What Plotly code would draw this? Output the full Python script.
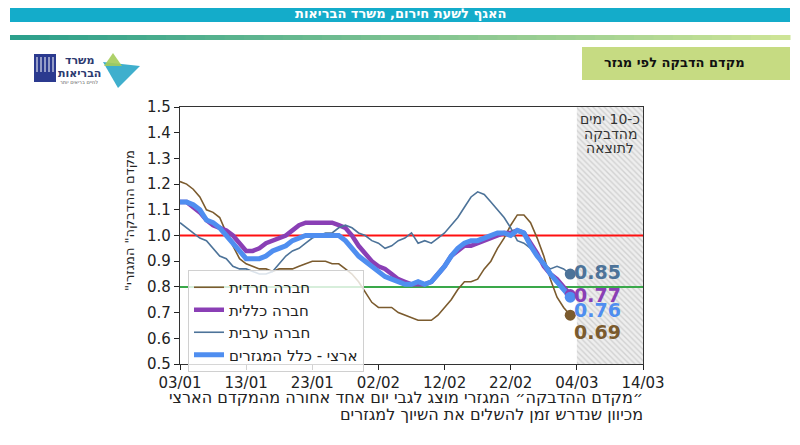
import pandas as pd
import plotly.graph_objects as go

# 마지막 날짜까지 60일치 (2021-01-03 ~ 2021-03-03)
dates = pd.date_range('2021-01-03', periods=60)

haredi = [1.21, 1.20, 1.18, 1.15, 1.10, 1.09, 1.07, 1.01, 0.96, 0.91,
          0.89, 0.88, 0.87, 0.87, 0.86, 0.87, 0.87, 0.87, 0.88, 0.89,
          0.90, 0.90, 0.90, 0.89, 0.89, 0.87, 0.85, 0.82, 0.78, 0.74,
          0.72, 0.72, 0.72, 0.70, 0.69, 0.68, 0.67, 0.67, 0.67, 0.69,
          0.72, 0.75, 0.79, 0.82, 0.82, 0.83, 0.87, 0.90, 0.95, 0.99,
          1.04, 1.08, 1.08, 1.05, 0.99, 0.92, 0.83, 0.76, 0.72, 0.69]

general = [1.13, 1.13, 1.11, 1.09, 1.06, 1.04, 1.03, 1.02, 1.00, 0.97,
           0.94, 0.94, 0.95, 0.97, 0.98, 0.99, 1.00, 1.02, 1.04, 1.05,
           1.05, 1.05, 1.05, 1.05, 1.04, 1.03, 1.00, 0.96, 0.93, 0.90,
           0.88, 0.87, 0.85, 0.83, 0.82, 0.81, 0.81, 0.81, 0.82, 0.85,
           0.88, 0.92, 0.94, 0.96, 0.96, 0.97, 0.98, 0.99, 1.00, 1.01,
           1.01, 1.02, 1.01, 0.97, 0.93, 0.88, 0.85, 0.83, 0.80, 0.77]

arab = [1.05, 1.03, 1.01, 0.99, 0.98, 0.95, 0.92, 0.91, 0.88, 0.87,
        0.87, 0.86, 0.85, 0.85, 0.86, 0.89, 0.92, 0.94, 0.95, 0.97,
        0.99, 1.00, 1.01, 1.01, 1.03, 1.04, 1.03, 1.01, 1.00, 0.98,
        0.97, 0.95, 0.96, 0.98, 0.99, 1.01, 0.97, 0.98, 0.97, 0.99,
        1.01, 1.04, 1.07, 1.11, 1.15, 1.17, 1.16, 1.13, 1.10, 1.07,
        1.03, 0.98, 0.97, 0.95, 0.92, 0.89, 0.87, 0.88, 0.87, 0.85]

national = [1.13, 1.13, 1.12, 1.10, 1.06, 1.05, 1.03, 1.00, 0.97, 0.94,
            0.91, 0.91, 0.91, 0.92, 0.94, 0.95, 0.96, 0.98, 0.99, 1.00,
            1.00, 1.00, 1.00, 1.00, 1.00, 0.98, 0.95, 0.92, 0.90, 0.88,
            0.86, 0.84, 0.83, 0.82, 0.81, 0.81, 0.82, 0.81, 0.82, 0.85,
            0.88, 0.92, 0.95, 0.97, 0.98, 0.98, 0.99, 1.00, 1.01, 1.01,
            1.00, 1.02, 1.01, 0.96, 0.92, 0.89, 0.85, 0.82, 0.79, 0.76]

names = ['חברה חרדית', 'חברה כללית', 'חברה ערבית', 'ארצי - כלל המגזרים']
colors = ['#7b5b2e', '#8a3fb5', '#4d7399', '#4f8ef0']
widths = [1.6, 4.5, 1.6, 5]
label_shift = [-17, 0, 2, -13]   # 끝값 라벨 위치 보정

tick_vals = pd.date_range('2021-01-03', periods=8, freq='10D')
tick_text = ['03/01', '13/01', '23/01', '02/02', '12/02', '22/02', '04/03', '14/03']

x_start, x_end = '2021-01-03', '2021-03-14'
shade_start = '2021-03-04'
shade_text = ['כ-10 ימים', 'מהדבקה', 'לתוצאה']

FONT = 'DejaVu Sans'

# 페이지 body 여백(8px) 고려
W, H, OFF = 792, 437, 8
# 픽셀(스크린샷 기준) -> paper 좌표
L, R, T, B = 180, 643, 107, 364
def px(x):
    return (x - L) / (R - L)
def py(y):
    return (B - y) / (B - T)

def note(x, y, text, size, color='#222', xanchor='center', **kw):
    fig.add_annotation(x=px(x), y=py(y), xref='paper', yref='paper', text=text,
                       showarrow=False, xanchor=xanchor, yanchor='middle',
                       font=dict(family=FONT, size=size, color=color), **kw)

fig = go.Figure()

# 빗금 영역
fig.add_trace(go.Scatter(
    x=[shade_start, x_end, x_end, shade_start, shade_start],
    y=[0.5, 0.5, 1.5, 1.5, 0.5],
    fill='toself', mode='lines', line=dict(width=0),
    fillcolor='#e4e4e4',
    fillpattern=dict(shape='\\', fgcolor='#b4b4b4', bgcolor='#eeeeee', size=4, solidity=0.35),
    showlegend=False, hoverinfo='skip'
))

# 기준선 1.0 / 0.8
fig.add_trace(go.Scatter(x=[x_start, x_end], y=[1.0, 1.0], mode='lines',
                         line=dict(color='#ff1010', width=2), showlegend=False, hoverinfo='skip'))
fig.add_trace(go.Scatter(x=[x_start, x_end], y=[0.8, 0.8], mode='lines',
                         line=dict(color='#3aa84a', width=2), showlegend=False, hoverinfo='skip'))

series = [haredi, general, arab, national]
for s, name, c, w in zip(series, names, colors, widths):
    fig.add_trace(go.Scatter(x=dates, y=s, mode='lines', name=name,
                             line=dict(color=c, width=w)))

# 끝점 마커 + 값 라벨
for s, c, shift in zip(series, colors, label_shift):
    fig.add_trace(go.Scatter(x=[dates[-1]], y=[s[-1]], mode='markers',
                             marker=dict(color=c, size=11), showlegend=False, hoverinfo='skip'))
    fig.add_annotation(x=dates[-1], y=s[-1], text=f'<b>{s[-1]:.2f}</b>', showarrow=False,
                       xanchor='left', yanchor='middle', xshift=2, yshift=shift,
                       font=dict(family=FONT, size=19, color=c))

for i, t in enumerate(shade_text):
    note(610, 119 + i * 14.5, t, 14, '#333')

# 축 제목
note(129, 221, '"מקדם ההדבקה" המגזרי', 13, textangle=-90)
note(645, 397, '״מקדם ההדבקה״ המגזרי מוצג לגבי יום אחד אחורה מהמקדם הארצי', 16, xanchor='right')
note(645, 414, 'מכיוון שנדרש זמן להשלים את השיוך למגזרים', 16, xanchor='right')

# 상단 헤더
fig.add_shape(type='rect', xref='paper', yref='paper', x0=px(0), x1=px(800), y0=py(0), y1=py(5),
              fillcolor='#d8d8d8', line_width=0)
fig.add_shape(type='rect', xref='paper', yref='paper', x0=px(10), x1=px(790), y0=py(5), y1=py(22),
              fillcolor='#14acca', line_width=0)
note(400, 14, '<b>האגף לשעת חירום, משרד הבריאות</b>', 13, 'white')
# 그라데이션 띠
c0, c1 = (44, 160, 140), (205, 228, 150)
n = 40
for i in range(n):
    f = i / (n - 1)
    col = 'rgb(%d,%d,%d)' % tuple(int(a + (b - a) * f) for a, b in zip(c0, c1))
    fig.add_shape(type='rect', xref='paper', yref='paper',
                  x0=px(10 + 780 * i / n), x1=px(10 + 780 * (i + 1) / n + 0.5),
                  y0=py(35), y1=py(40), fillcolor=col, line_width=0)

fig.add_shape(type='rect', xref='paper', yref='paper', x0=px(582), x1=px(790), y0=py(47), y1=py(80),
              fillcolor='#c6db82', line_width=0)
note(747, 63, '<b>מקדם הדבקה לפי מגזר</b>', 13, '#111', xanchor='right')

# 로고 (대략)
fig.add_shape(type='rect', xref='paper', yref='paper', x0=px(34), x1=px(56), y0=py(54), y1=py(82),
              fillcolor='#2b3a8f', line_width=0)
for xx in [37, 41, 45, 49, 53]:
    fig.add_shape(type='line', xref='paper', yref='paper', x0=px(xx), x1=px(xx), y0=py(57), y1=py(72),
                  line=dict(color='white', width=1))
note(79, 61, '<b>משרד</b>', 11, '#2b3a6f')
note(79, 73, '<b>הבריאות</b>', 11, '#2b3a6f')
note(79, 82, 'לחיים בריאים יותר', 5, '#555')
fig.add_shape(type='path', xref='paper', yref='paper',
              path=f'M {px(103)} {py(62)} L {px(140)} {py(66)} L {px(118)} {py(88)} Z',
              fillcolor='#2aa6c8', line_width=0, opacity=0.9)
fig.add_shape(type='path', xref='paper', yref='paper',
              path=f'M {px(113)} {py(53)} L {px(122)} {py(66)} L {px(104)} {py(66)} Z',
              fillcolor='#a5cc5a', line_width=0, opacity=0.9)

fig.update_layout(
    width=W, height=H,
    margin=dict(l=L - OFF, r=W - (R - OFF), t=T - OFF, b=H - (B - OFF)),
    paper_bgcolor='white', plot_bgcolor='white',
    font=dict(family=FONT, size=15, color='#222'),
    showlegend=True,
    legend=dict(x=px(188), y=py(270), xanchor='left', yanchor='top',
                bgcolor='rgba(255,255,255,0.8)', bordercolor='#d0d0d0', borderwidth=1,
                font=dict(family=FONT, size=15, color='#222'), tracegroupgap=0),
    xaxis=dict(range=[x_start, x_end], tickvals=tick_vals, ticktext=tick_text,
               ticks='outside', ticklen=5, tickcolor='#222', showgrid=False, zeroline=False,
               showline=True, linecolor='#333', linewidth=1.2, mirror=True),
    yaxis=dict(range=[0.5, 1.5], dtick=0.1, tick0=0.5, tickformat='.1f',
               ticks='outside', ticklen=5, tickcolor='#222', showgrid=False, zeroline=False,
               showline=True, linecolor='#333', linewidth=1.2, mirror=True),
)

fig.write_html('out.html')
